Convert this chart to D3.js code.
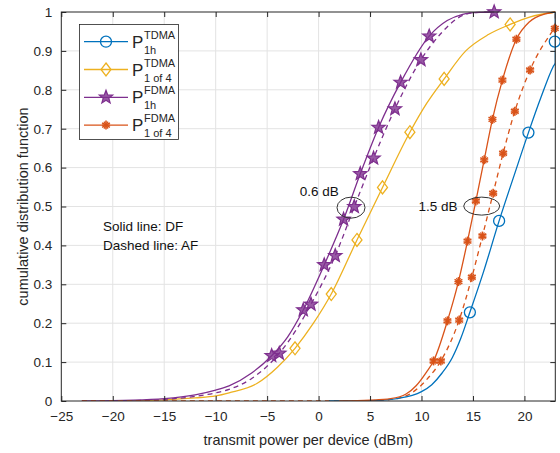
<!DOCTYPE html>
<html>
<head>
<meta charset="utf-8">
<script src="https://cdn.jsdelivr.net/npm/d3@7"></script>
<style>
  body { margin: 0; background: #fff; }
  svg { font-family: "Liberation Sans", Arial, sans-serif; }
</style>
</head>
<body>
<svg id="chart" width="560" height="453"></svg>
<script>
// tick values
const xTicks = [-25, -20, -15, -10, -5, 0, 5, 10, 15, 20];
const yTicks = [0, 0.1, 0.2, 0.3, 0.4, 0.5, 0.6, 0.7, 0.8, 0.9, 1];

// curve points [x (dBm), cdf]
const fdma1hDF = [[-23, 0], [-18, 0.002], [-15, 0.006], [-12, 0.016], [-10, 0.028], [-8.7, 0.039], [-6.5, 0.072],
  [-4.56, 0.1165], [-3, 0.165], [-1.49, 0.234], [0.55, 0.35], [2.43, 0.467], [4.05, 0.584], [5.83, 0.703],
  [7.97, 0.819], [10.75, 0.938], [12.5, 0.978], [14, 0.994], [15.5, 0.999], [17, 1]];
const fdma1hAF = [[-23, 0], [-18, 0.001], [-15, 0.004], [-12, 0.012], [-10, 0.021], [-8.7, 0.030], [-6.5, 0.058],
  [-3.82, 0.1225], [-2.2, 0.182], [-0.74, 0.2485], [1.62, 0.3735], [3.47, 0.4995], [5.34, 0.624], [7.42, 0.751],
  [9.94, 0.877], [12, 0.948], [13.5, 0.984], [15, 0.998], [17.06, 1]];
const tdma1of4DF = [[-20, 0], [-15, 0.003], [-12, 0.008], [-10, 0.013], [-8.7, 0.021], [-6, 0.045], [-4, 0.087],
  [-2.29, 0.1355], [-0.5, 0.2], [1.23, 0.275], [3.73, 0.414], [6.21, 0.549], [8.87, 0.691], [10.5, 0.765],
  [12.2, 0.828], [14.3, 0.9], [16.5, 0.942], [18.61, 0.968], [20.5, 0.987], [23, 1]];
const fdma1of4DF = [[2, 0], [5, 0.002], [7, 0.006], [8.5, 0.018], [9.5, 0.04], [10.5, 0.075], [11.17, 0.103],
  [12.52, 0.206], [13.59, 0.307], [14.47, 0.411], [15.28, 0.514], [16.09, 0.62], [16.89, 0.724], [17.86, 0.825],
  [19.22, 0.93], [20.5, 0.975], [22, 0.995], [23, 1]];
const fdma1of4AF = [[-23, 0], [0, 0], [5, 0.001], [7, 0.004], [9, 0.02], [10.5, 0.055], [11.88, 0.103],
  [13.66, 0.208], [14.89, 0.318], [15.92, 0.424], [16.96, 0.534], [17.93, 0.637], [19.07, 0.745],
  [20.55, 0.851], [22.9, 0.958], [23, 0.962], [23, 1]];
const tdma1hDF = [[1, 0], [5, 0.001], [7.8, 0.007], [10, 0.024], [11, 0.042], [12, 0.072], [13, 0.112],
  [13.8, 0.16], [14.7, 0.228], [16, 0.33], [17.54, 0.463], [19, 0.58], [20.39, 0.69], [21.6, 0.78],
  [22.8, 0.86], [23, 0.87], [23, 1]];

// marker positions
const fdma1hDFMarks = [[-4.56, 0.1165], [-1.49, 0.234], [0.55, 0.35], [2.43, 0.467], [4.05, 0.584],
  [5.83, 0.703], [7.97, 0.819], [10.75, 0.938], [17.06, 1]];
const fdma1hAFMarks = [[-3.82, 0.1225], [-0.74, 0.2485], [1.62, 0.3735], [3.47, 0.4995], [5.34, 0.624],
  [7.42, 0.751], [9.94, 0.877]];
const tdma1of4Marks = [[-2.29, 0.1355], [1.23, 0.275], [3.73, 0.414], [6.21, 0.549], [8.87, 0.691],
  [12.2, 0.828], [18.61, 0.968]];
const fdma1of4DFMarks = [[11.17, 0.103], [12.52, 0.206], [13.59, 0.307], [14.47, 0.411], [15.28, 0.514],
  [16.09, 0.62], [16.89, 0.724], [17.86, 0.825], [19.22, 0.93]];
const fdma1of4AFMarks = [[11.88, 0.103], [13.66, 0.208], [14.89, 0.318], [15.92, 0.424], [16.96, 0.534],
  [17.93, 0.637], [19.07, 0.745], [20.55, 0.851], [22.95, 0.958]];
const tdma1hMarks = [[14.7, 0.228], [17.54, 0.463], [20.39, 0.69], [22.95, 0.924]];

const legendLabels = [
  { sup: "TDMA", sub: "1h", color: "#0072BD", marker: "circle" },
  { sup: "TDMA", sub: "1 of 4", color: "#EDB120", marker: "diamond" },
  { sup: "FDMA", sub: "1h", color: "#7E2F8E", marker: "star" },
  { sup: "FDMA", sub: "1 of 4", color: "#D95319", marker: "asterisk" }
];

const svg = d3.select("#chart");
const margin = { left: 61.3, right: 4.7, top: 12, bottom: 52 };
const W = 560, H = 453;
const axisColor = "#262626";

const x = d3.scaleLinear().domain([-25, 23]).range([margin.left, W - margin.right]);
const y = d3.scaleLinear().domain([0, 1]).range([H - margin.bottom, margin.top]);

// grid
const grid = svg.append("g");
grid.selectAll("line.vx").data(xTicks.slice(1)).enter().append("line")
  .attr("x1", d => x(d)).attr("x2", d => x(d)).attr("y1", y(0)).attr("y2", y(1))
  .attr("stroke", "#e3e3e3").attr("stroke-width", 1);
grid.selectAll("line.hy").data(yTicks.slice(1, -1)).enter().append("line")
  .attr("x1", x(-25)).attr("x2", x(23)).attr("y1", d => y(d)).attr("y2", d => y(d))
  .attr("stroke", "#e3e3e3").attr("stroke-width", 1);

// clip
svg.append("clipPath").attr("id", "clip").append("rect")
  .attr("x", x(-25)).attr("y", y(1) - 8).attr("width", x(23) - x(-25)).attr("height", y(0) - y(1) + 8);

const line = d3.line().x(d => x(d[0])).y(d => y(d[1])).curve(d3.curveMonotoneX);

const plot = svg.append("g").attr("clip-path", "url(#clip)");

function drawLine(data, color, dashed) {
  plot.append("path").datum(data)
    .attr("fill", "none").attr("stroke", color).attr("stroke-width", 1.3)
    .attr("stroke-dasharray", dashed ? "5,4" : null)
    .attr("d", line);
}

function starPath(r) {
  const pts = [];
  for (let i = 0; i < 10; i++) {
    const a = -Math.PI / 2 + i * Math.PI / 5;
    const rr = i % 2 === 0 ? r : r * 0.42;
    pts.push([rr * Math.cos(a), rr * Math.sin(a)]);
  }
  return "M" + pts.map(p => p.join(",")).join("L") + "Z";
}

function drawMarker(g, type, color) {
  if (type === "circle") {
    g.append("circle").attr("r", 5.5).attr("fill", "none").attr("stroke", color).attr("stroke-width", 1.3);
  } else if (type === "diamond") {
    g.append("path").attr("d", "M0,-6.5L5,0L0,6.5L-5,0Z").attr("fill", "none").attr("stroke", color).attr("stroke-width", 1.3);
  } else if (type === "star") {
    g.append("path").attr("d", starPath(7)).attr("fill", color).attr("fill-opacity", 0.8)
      .attr("stroke", color).attr("stroke-width", 1.2);
  } else if (type === "asterisk") {
    const r = 4.5;
    [0, 60, 120].forEach(a => {
      const c = Math.cos(a * Math.PI / 180 + Math.PI / 2) * r, s = Math.sin(a * Math.PI / 180 + Math.PI / 2) * r;
      g.append("line").attr("x1", -c).attr("y1", -s).attr("x2", c).attr("y2", s)
        .attr("stroke", color).attr("stroke-width", 1.6);
    });
    [30, 90, 150].forEach(a => {
      const c = Math.cos(a * Math.PI / 180 + Math.PI / 2) * r * 0.9, s = Math.sin(a * Math.PI / 180 + Math.PI / 2) * r * 0.9;
      g.append("line").attr("x1", -c).attr("y1", -s).attr("x2", c).attr("y2", s)
        .attr("stroke", color).attr("stroke-width", 1.2);
    });
  }
}

function drawMarkers(data, type, color) {
  const mg = svg.append("g");
  data.forEach(d => {
    const g = mg.append("g").attr("transform", `translate(${x(d[0])},${y(d[1])})`);
    drawMarker(g, type, color);
  });
}

drawLine(tdma1of4DF, "#EDB120", false);
drawLine(fdma1hAF, "#7E2F8E", true);
drawLine(fdma1hDF, "#7E2F8E", false);
drawLine(fdma1of4AF, "#D95319", true);
drawLine(tdma1hDF, "#0072BD", false);
drawLine(fdma1of4DF, "#D95319", false);

drawMarkers(tdma1of4Marks, "diamond", "#EDB120");
drawMarkers(fdma1hAFMarks, "star", "#7E2F8E");
drawMarkers(fdma1hDFMarks, "star", "#7E2F8E");
drawMarkers(fdma1of4AFMarks, "asterisk", "#D95319");
drawMarkers(fdma1of4DFMarks, "asterisk", "#D95319");
drawMarkers(tdma1hMarks, "circle", "#0072BD");

// axes box
svg.append("rect").attr("x", x(-25)).attr("y", y(1)).attr("width", x(23) - x(-25)).attr("height", y(0) - y(1))
  .attr("fill", "none").attr("stroke", axisColor).attr("stroke-width", 1);

const xAxis = d3.axisBottom(x).tickValues(xTicks).tickSize(-5).tickPadding(10);
const gx = svg.append("g").attr("transform", `translate(0,${y(0)})`).call(xAxis);
gx.select(".domain").remove();
gx.selectAll("line").attr("stroke", axisColor);
gx.selectAll("text").attr("font-size", 13.5).attr("fill", axisColor);

const xTop = d3.axisTop(x).tickValues(xTicks).tickSize(-5).tickFormat("");
const gxt = svg.append("g").attr("transform", `translate(0,${y(1)})`).call(xTop);
gxt.select(".domain").remove();
gxt.selectAll("line").attr("stroke", axisColor);

const yAxis = d3.axisLeft(y).tickValues(yTicks).tickSize(-5).tickPadding(9).tickFormat(d => d === 0 || d === 1 ? d3.format("d")(d) : d3.format(".1f")(d));
const gy = svg.append("g").attr("transform", `translate(${x(-25)},0)`).call(yAxis);
gy.select(".domain").remove();
gy.selectAll("line").attr("stroke", axisColor);
gy.selectAll("text").attr("font-size", 13.5).attr("fill", axisColor);

const yRight = d3.axisRight(y).tickValues(yTicks).tickSize(-5).tickFormat("");
const gyr = svg.append("g").attr("transform", `translate(${x(23)},0)`).call(yRight);
gyr.select(".domain").remove();
gyr.selectAll("line").attr("stroke", axisColor);

// axis labels
svg.append("text").attr("x", (x(-25) + x(23)) / 2).attr("y", 445).attr("text-anchor", "middle")
  .attr("font-size", 14.5).attr("fill", axisColor).text("transmit power per device (dBm)");
svg.append("text").attr("transform", `translate(28,${(y(0) + y(1)) / 2}) rotate(-90)`).attr("text-anchor", "middle")
  .attr("font-size", 14.5).attr("fill", axisColor).text("cumulative distribution function");

// annotations
svg.append("text").attr("x", 103).attr("y", 231).attr("font-size", 13.5).attr("fill", "#111").text("Solid line: DF");
svg.append("text").attr("x", 103).attr("y", 250).attr("font-size", 13.5).attr("fill", "#111").text("Dashed line: AF");

svg.append("ellipse").attr("cx", x(3.15)).attr("cy", y(0.497)).attr("rx", 14).attr("ry", 10.5)
  .attr("fill", "none").attr("stroke", "#333").attr("stroke-width", 1);
svg.append("text").attr("x", x(1.95)).attr("y", y(0.528)).attr("text-anchor", "end")
  .attr("font-size", 13.5).attr("fill", "#111").text("0.6 dB");
svg.append("ellipse").attr("cx", x(15.85)).attr("cy", y(0.501)).attr("rx", 18).attr("ry", 9)
  .attr("fill", "none").attr("stroke", "#333").attr("stroke-width", 1);
svg.append("text").attr("x", x(13.5)).attr("y", y(0.488)).attr("text-anchor", "end")
  .attr("font-size", 13.5).attr("fill", "#111").text("1.5 dB");

// legend
const lg = svg.append("g");
lg.append("rect").attr("x", 79.5).attr("y", 24.5).attr("width", 99).attr("height", 115)
  .attr("fill", "#fff").attr("stroke", axisColor).attr("stroke-width", 0.8);
legendLabels.forEach((d, i) => {
  const cy = 41.7 + i * 27.8;
  lg.append("line").attr("x1", 84).attr("x2", 128).attr("y1", cy).attr("y2", cy)
    .attr("stroke", d.color).attr("stroke-width", 1.3);
  const m = lg.append("g").attr("transform", `translate(106,${cy})`);
  drawMarker(m, d.marker, d.color);
  lg.append("text").attr("x", 132).attr("y", cy + 6).attr("fill", axisColor).attr("font-size", 17).text("P");
  lg.append("text").attr("x", 144).attr("y", cy - 3).attr("font-size", 11).attr("fill", axisColor).text(d.sup);
  lg.append("text").attr("x", 144).attr("y", cy + 12).attr("font-size", 11).attr("fill", axisColor).text(d.sub);
});
</script>
</body>
</html>
